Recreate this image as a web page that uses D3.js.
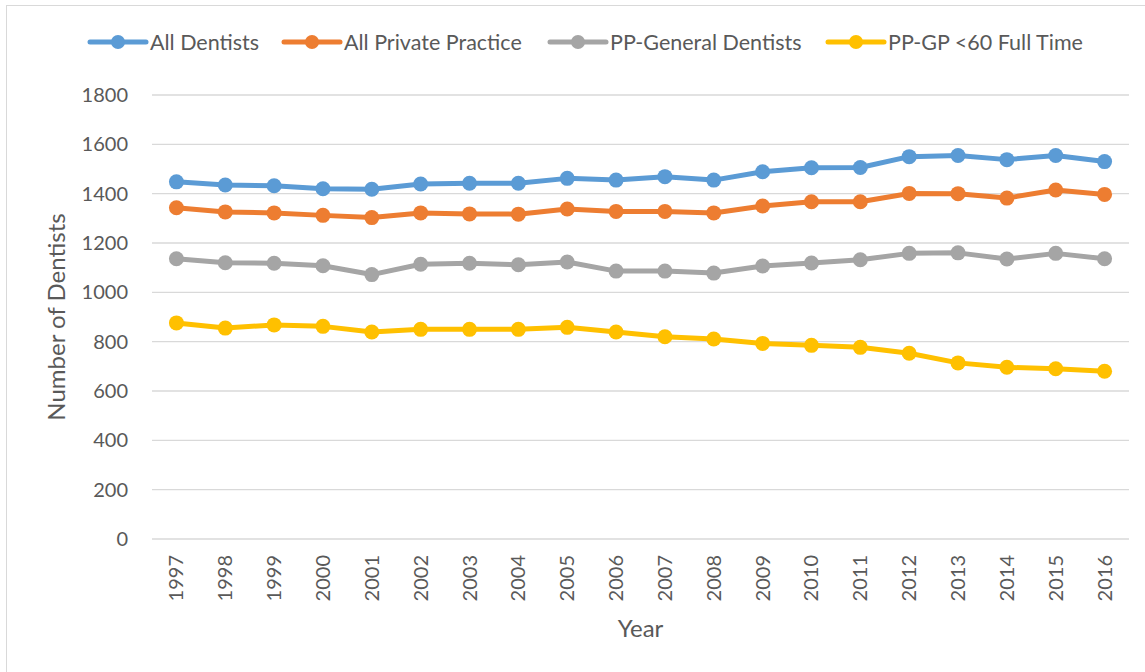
<!DOCTYPE html>
<html>
<head>
<meta charset="utf-8">
<script src="https://cdn.jsdelivr.net/npm/d3@7"></script>
<style>
  body { margin: 0; background: #fff; }
  text { font-family: Lato, "Open Sans", sans-serif; fill: #595959; }
</style>
</head>
<body>
<script>
var years = [1997,1998,1999,2000,2001,2002,2003,2004,2005,2006,2007,2008,2009,2010,2011,2012,2013,2014,2015,2016]
var allDentists = [1448,1435,1432,1420,1418,1439,1442,1442,1462,1455,1469,1455,1489,1505,1506,1550,1555,1538,1555,1530]
var allPrivate = [1343,1326,1322,1312,1303,1322,1318,1317,1338,1328,1328,1322,1350,1367,1367,1401,1400,1382,1415,1397]
var ppGeneral = [1136,1120,1118,1108,1072,1114,1118,1112,1123,1086,1086,1078,1107,1119,1132,1158,1160,1135,1158,1136]
var ppGpUnder60 = [876,855,868,862,839,850,850,850,858,839,820,811,793,785,777,753,714,696,690,680]
var seriesNames = ["All Dentists", "All Private Practice", "PP-General Dentists", "PP-GP <60 Full Time"]
var seriesColors = ["#5b9bd5", "#ed7d31", "#a5a5a5", "#ffc000"]
var yTicks = [0,200,400,600,800,1000,1200,1400,1600,1800]

var series = [allDentists, allPrivate, ppGeneral, ppGpUnder60].map((vals, i) => ({
    name: seriesNames[i],
    color: seriesColors[i],
    values: vals.map((v, j) => ({year: years[j], value: v}))
}))

var svgWidth = 1145
var svgHeight = 672
var margin = {top: 95, right: 16, bottom: 133, left: 152}
var width = svgWidth - margin.left - margin.right
var height = svgHeight - margin.top - margin.bottom

var svg = d3.select("body")
    .append("svg")
    .attr("width", svgWidth)
    .attr("height", svgHeight)

// chart border
svg.append("rect")
    .attr("x", 6.5).attr("y", 5.5)
    .attr("width", 1160).attr("height", 700)
    .attr("fill", "none")
    .attr("stroke", "#d9d9d9")

var g = svg.append("g")
    .attr("transform", "translate(" + margin.left + "," + margin.top + ")")

var x = d3.scaleBand().domain(years).range([0, width])
var y = d3.scaleLinear().domain([0, 1800]).range([height, 0])

// gridlines
g.append("g")
  .selectAll("line")
  .data(yTicks)
  .enter()
  .append("line")
  .attr("x1", 0).attr("x2", width)
  .attr("y1", d => y(d)).attr("y2", d => y(d))
  .attr("stroke", "#d9d9d9")
  .attr("stroke-width", 1.3)

var yAxis = d3.axisLeft(y).tickValues(yTicks).tickFormat(d3.format("d")).tickSize(0).tickPadding(24)
g.append("g")
  .attr("class", "axis axis--y")
  .call(yAxis)
  .call(a => a.select(".domain").remove())
  .selectAll("text")
  .style("font-size", "20px")
  .attr("fill", "#595959")

var xAxis = d3.axisBottom(x).tickSize(0)
g.append("g")
  .attr("class", "axis axis--x")
  .attr("transform", "translate(0," + height + ")")
  .call(xAxis)
  .call(a => a.select(".domain").remove())
  .selectAll("text")
  .style("font-size", "20px")
  .attr("fill", "#595959")
  .attr("transform", "rotate(-90)")
  .attr("text-anchor", "end")
  .attr("x", -16)
  .attr("y", 0)
  .attr("dy", "0.35em")

// axis titles
svg.append("text")
  .attr("transform", "translate(65," + (margin.top + height / 2) + ") rotate(-90)")
  .attr("text-anchor", "middle")
  .style("font-size", "24px")
  .text("Number of Dentists")

svg.append("text")
  .attr("x", margin.left + width / 2)
  .attr("y", 637)
  .attr("text-anchor", "middle")
  .style("font-size", "24px")
  .text("Year")

var line = d3.line()
  .x(d => x(d.year) + x.bandwidth() / 2)
  .y(d => y(d.value))

var sg = g.selectAll(".series")
  .data(series)
  .enter()
  .append("g")
  .attr("class", "series")

sg.append("path")
  .attr("d", d => line(d.values))
  .attr("fill", "none")
  .attr("stroke", d => d.color)
  .attr("stroke-width", 5)
  .attr("stroke-linejoin", "round")

sg.selectAll("circle")
  .data(d => d.values.map(v => ({color: d.color, year: v.year, value: v.value})))
  .enter()
  .append("circle")
  .attr("cx", d => x(d.year) + x.bandwidth() / 2)
  .attr("cy", d => y(d.value))
  .attr("r", 7.5)
  .attr("fill", d => d.color)

// legend
var legendX = [90, 284, 550, 828]
var legend = svg.selectAll(".legend")
  .data(series)
  .enter()
  .append("g")
  .attr("class", "legend")
  .attr("transform", (d, i) => "translate(" + legendX[i] + ",42)")

legend.append("line")
  .attr("x1", 0).attr("x2", 56)
  .attr("stroke", d => d.color)
  .attr("stroke-width", 5)
  .attr("stroke-linecap", "round")
legend.append("circle")
  .attr("cx", 28).attr("r", 7)
  .attr("fill", d => d.color)
legend.append("text")
  .attr("x", 60)
  .attr("dy", "0.35em")
  .style("font-size", "21.5px")
  .text(d => d.name)
</script>
</body>
</html>
